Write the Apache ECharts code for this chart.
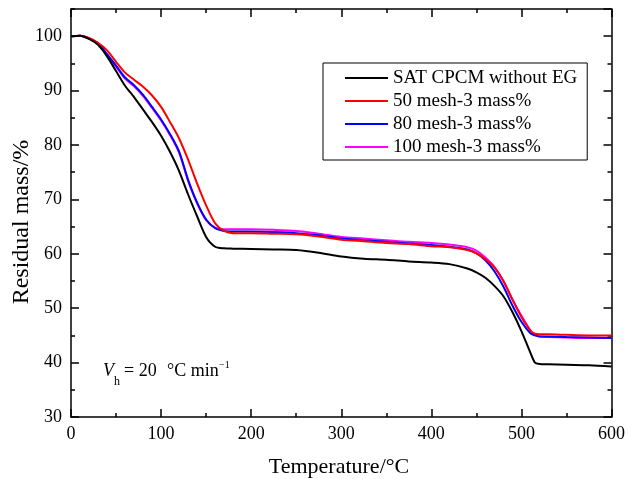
<!DOCTYPE html>
<html>
<head>
<meta charset="utf-8">
<script src="https://cdn.jsdelivr.net/npm/echarts@6/dist/echarts.min.js"></script>
<style>html,body{margin:0;padding:0;background:#fff}#c{width:628px;height:479px}</style>
</head>
<body>
<div id="c"></div>
<script>
const temps    = [0, 10, 20, 30, 40, 50, 60, 70, 80, 90, 100, 110, 120, 130, 140, 150, 160, 170, 180, 200, 225, 250, 275, 300, 325, 350, 375, 400, 420, 440, 450, 460, 470, 480, 490, 500, 510, 515, 520, 530, 550, 575, 600];
const satCPCM  = [100, 100.1, 99.5, 98.4, 96.3, 93.6, 90.9, 88.8, 86.5, 84.2, 81.7, 78.7, 75.2, 70.9, 66.9, 63.1, 61.3, 61.0, 60.95, 60.9, 60.8, 60.7, 60.2, 59.5, 59.1, 58.9, 58.6, 58.4, 58.1, 57.3, 56.6, 55.6, 54.1, 52.2, 49.3, 45.8, 41.8, 40.0, 39.75, 39.7, 39.6, 39.5, 39.3];
const mesh50   = [100, 100.1, 99.7, 98.8, 97.4, 95.3, 93.3, 92.0, 90.7, 89.1, 87.0, 84.2, 81.2, 77.3, 72.9, 68.9, 65.6, 64.2, 63.8, 63.8, 63.7, 63.6, 63.2, 62.6, 62.3, 62.0, 61.8, 61.4, 61.2, 60.7, 60.1, 59.0, 57.5, 55.0, 51.6, 48.4, 45.9, 45.3, 45.2, 45.2, 45.1, 45.0, 45.0];
const mesh80   = [100, 100.1, 99.6, 98.7, 96.7, 94.6, 92.4, 91.0, 89.2, 87.0, 84.7, 82.0, 78.8, 73.6, 69.4, 66.3, 64.7, 64.2, 64.1, 64.1, 64.0, 63.8, 63.4, 62.8, 62.5, 62.2, 61.9, 61.6, 61.3, 60.8, 60.1, 58.8, 56.8, 54.0, 50.5, 47.5, 45.4, 45.0, 44.8, 44.8, 44.7, 44.6, 44.5];
const mesh100  = [100, 100.1, 99.6, 98.6, 96.6, 94.4, 92.2, 90.8, 89.0, 86.8, 84.5, 81.8, 78.6, 73.4, 69.3, 66.2, 64.8, 64.5, 64.5, 64.5, 64.4, 64.2, 63.7, 63.1, 62.8, 62.5, 62.2, 62.0, 61.7, 61.2, 60.6, 59.3, 57.6, 55.0, 51.6, 48.6, 45.9, 45.1, 44.8, 44.7, 44.6, 44.5, 44.5];
const seriesNames = ['SAT CPCM without EG', '50 mesh-3 mass%', '80 mesh-3 mass%', '100 mesh-3 mass%'];
const seriesColors = ['#000000', '#ff0000', '#0000ff', '#ff00ff'];
const xTicks = [0, 100, 200, 300, 400, 500, 600];
const yTicks = [30, 40, 50, 60, 70, 80, 90, 100];

const FONT = 'Liberation Serif';
const axisColor = '#000';
const pair = arr => temps.map((t, i) => [t, arr[i]]);
const allData = [satCPCM, mesh50, mesh80, mesh100];

const lineStyleAxis = { color: axisColor, width: 1.5 };
function xAx(pos, labels) {
  return {
    type: 'value', min: xTicks[0], max: xTicks[xTicks.length - 1], interval: 100, position: pos,
    axisLine: { show: true, onZero: false, lineStyle: lineStyleAxis },
    axisTick: { show: true, inside: true, length: 8, lineStyle: lineStyleAxis },
    minorTick: { show: true, splitNumber: 2, length: 4, lineStyle: lineStyleAxis },
    axisLabel: { show: labels, fontFamily: FONT, fontSize: 18, color: '#000', margin: 8 },
    splitLine: { show: false }, minorSplitLine: { show: false }
  };
}
function yAx(pos, interval, len, labels, line) {
  return {
    type: 'value', min: yTicks[0], max: 105, interval: interval, position: pos, offset: 0,
    axisLine: { show: line, onZero: false, lineStyle: lineStyleAxis },
    axisTick: { show: true, inside: true, length: len, lineStyle: lineStyleAxis },
    axisLabel: { show: labels, showMaxLabel: false, fontFamily: FONT, fontSize: 18, color: '#000', margin: 9 },
    splitLine: { show: false }
  };
}

const chart = echarts.init(document.getElementById('c'), null, { renderer: 'canvas' });
chart.setOption({
  backgroundColor: '#fff',
  animation: false,
  grid: { left: 71, right: 14, top: 9, bottom: 62, containLabel: false },
  xAxis: [xAx('bottom', true), xAx('top', false)],
  yAxis: [yAx('left', 10, 8, true, true), yAx('left', 5, 4, false, false), yAx('right', 10, 8, false, true), yAx('right', 5, 4, false, false)],
  legend: {
    orient: 'vertical', left: 323, top: 63,
    data: seriesNames,
    icon: 'rect', itemWidth: 43, itemHeight: 2, itemGap: 3,
    textStyle: { fontFamily: FONT, fontSize: 19, color: '#000', lineHeight: 20 },
    borderColor: '#000', borderWidth: 1, padding: [5, 10, 3, 22], backgroundColor: '#fff'
  },
  series: seriesNames.map((n, i) => ({
    name: n, type: 'line', xAxisIndex: 0, yAxisIndex: 0,
    data: pair(allData[i]), showSymbol: false, symbol: 'none', smooth: 0.3,
    lineStyle: { color: seriesColors[i], width: 2 }, itemStyle: { color: seriesColors[i] },
    z: 10 - i
  })),
  graphic: [
    { type: 'text', x: 339, y: 467, style: { text: 'Temperature/°C', font: '22px "Liberation Serif"', fill: '#000', textAlign: 'center', textVerticalAlign: 'middle' } },
    { type: 'text', x: 22, y: 222, rotation: Math.PI / 2, style: { text: 'Residual mass/%', font: '24px "Liberation Serif"', fill: '#000', textAlign: 'center', textVerticalAlign: 'middle' } },
    { type: 'text', x: 103, y: 371, style: { text: 'V', font: 'italic 18px "Liberation Serif"', fill: '#000', textAlign: 'left', textVerticalAlign: 'middle' } },
    { type: 'text', x: 114, y: 382, style: { text: 'h', font: '12px "Liberation Serif"', fill: '#000', textAlign: 'left', textVerticalAlign: 'middle' } },
    { type: 'text', x: 124, y: 371, style: { text: '= 20', font: '18px "Liberation Serif"', fill: '#000', textAlign: 'left', textVerticalAlign: 'middle' } },
    { type: 'text', x: 167, y: 371, style: { text: '°C min', font: '18px "Liberation Serif"', fill: '#000', textAlign: 'left', textVerticalAlign: 'middle' } },
    { type: 'text', x: 219, y: 365, style: { text: '−1', font: '10px "Liberation Serif"', fill: '#000', textAlign: 'left', textVerticalAlign: 'middle' } }
  ]
});
</script>
</body>
</html>
